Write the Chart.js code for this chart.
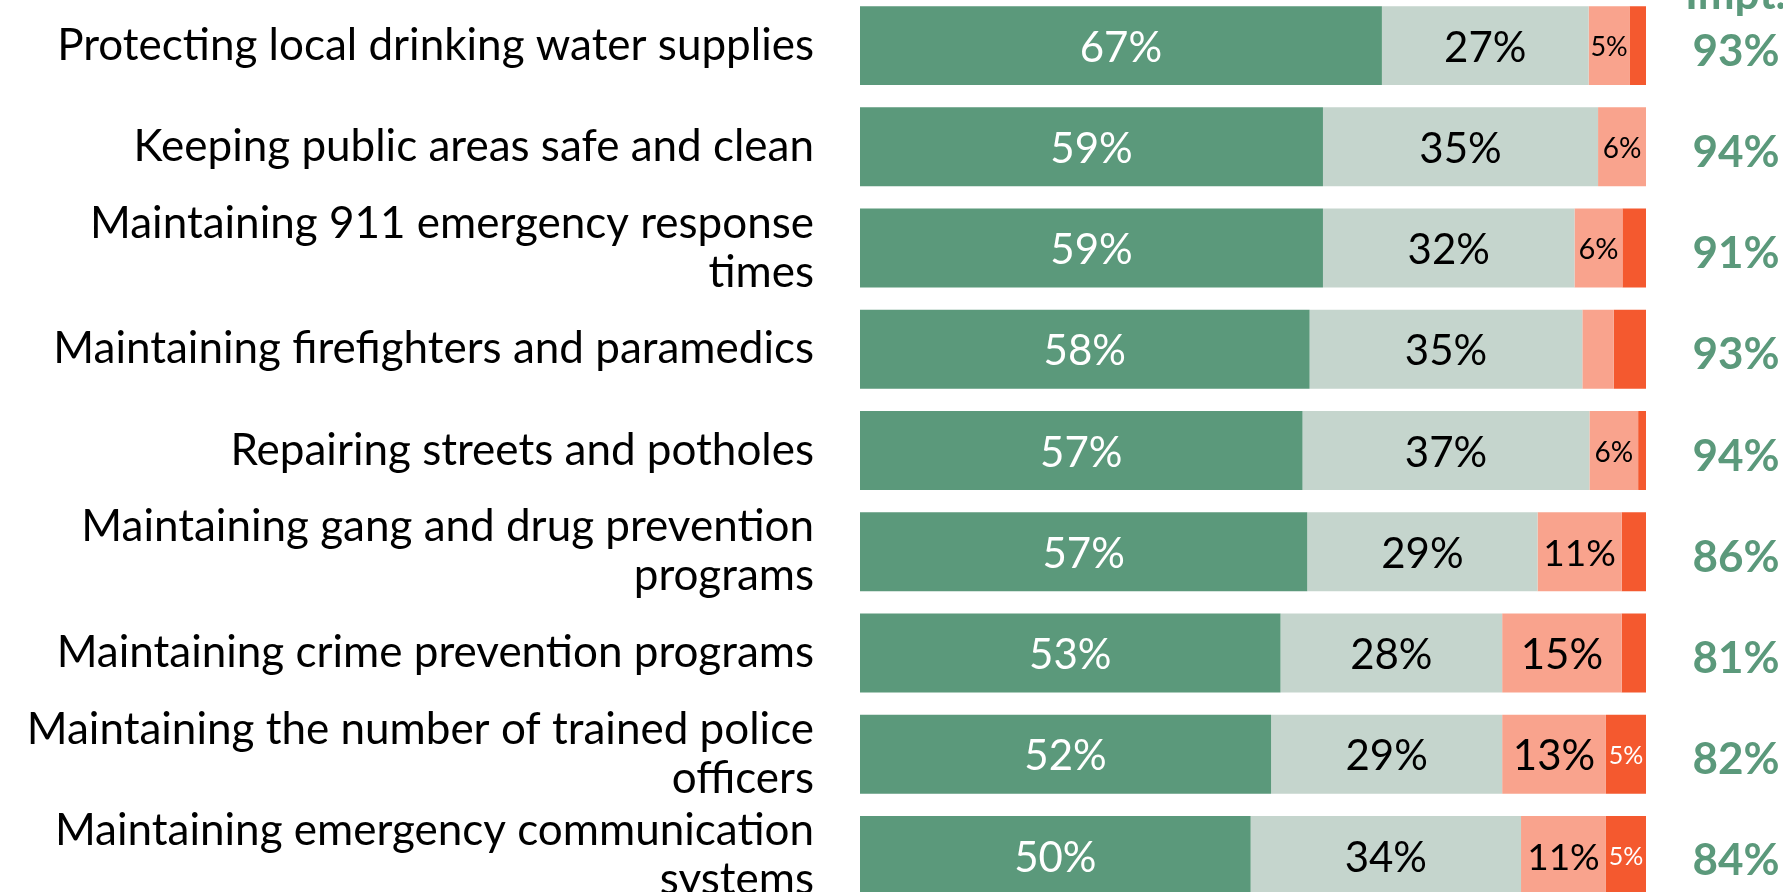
<!DOCTYPE html>
<html><head><meta charset="utf-8">
<script src="https://cdn.jsdelivr.net/npm/chart.js@4"></script>
<style>
html,body{margin:0;padding:0;background:#fff;overflow:hidden;width:1783px;height:892px;}
#wrap{position:absolute;left:0;top:-5px;width:1783px;height:911px;}
</style></head><body>
<div id="wrap"><canvas id="c"></canvas></div>
<script>
const categories = [
  'Protecting local drinking water supplies',
  'Keeping public areas safe and clean',
  ['Maintaining 911 emergency response', 'times'],
  'Maintaining firefighters and paramedics',
  'Repairing streets and potholes',
  ['Maintaining gang and drug prevention', 'programs'],
  'Maintaining crime prevention programs',
  ['Maintaining the number of trained police', 'officers'],
  ['Maintaining emergency communication', 'systems']
];
const veryImportant     = [66.4, 58.9, 58.9, 57.2, 56.3, 56.9, 53.5, 52.3, 49.7];
const somewhatImportant = [26.3, 35.0, 32.0, 34.7, 36.5, 29.3, 28.2, 29.4, 34.4];
const notTooImportant   = [5.2, 6.1, 6.1, 4.0, 6.2, 10.7, 15.2, 13.2, 10.8];
const notAtAllImportant = [2.1, 0, 3.0, 4.1, 1.0, 3.1, 3.1, 5.1, 5.1];
const veryLabels     = ['67%','59%','59%','58%','57%','57%','53%','52%','50%'];
const somewhatLabels = ['27%','35%','32%','35%','37%','29%','28%','29%','34%'];
const notTooLabels   = ['5%','6%','6%','','6%','11%','15%','13%','11%'];
const notAtAllLabels = ['','','','','','','','5%','5%'];
const totalImportant = ['93%','94%','91%','93%','94%','86%','81%','82%','84%'];
const headerText = 'Impt.';

// styles (kept apart from data)
const FONT = 'Lato, "Open Sans", sans-serif';
const GREEN = '#5B997B', GREY = '#C5D5CD', PINK = '#F9A38D', ORANGE = '#F4592F';
const labelSizes = [
  [42,42,42,42,42,42,42,42,42],
  [42,42,42,42,42,42,42,42,42],
  [27,28,29,28,28,37,42,42,37],
  [25,25,25,25,25,25,25,25,25]
];
const labelColors = ['#ffffff', '#000000', '#000000', '#ffffff'];

const labelPlugin = {
  id: 'segLabels',
  afterDatasetsDraw(chart) {
    const ctx = chart.ctx;
    ctx.save();
    ctx.textAlign = 'center';
    ctx.textBaseline = 'alphabetic';
    chart.data.datasets.forEach((ds, di) => {
      const meta = chart.getDatasetMeta(di);
      meta.data.forEach((bar, i) => {
        const txt = ds.segLabels[i];
        if (!txt) return;
        const fs = labelSizes[di][i];
        ctx.font = fs + 'px ' + FONT;
        ctx.fillStyle = labelColors[di];
        const x = (bar.x + bar.base) / 2;
        ctx.fillText(txt, x, bar.y + 0.36 * fs + 1);
      });
    });
    const ys = chart.scales.y;
    ctx.font = 'bold 44px ' + FONT;
    ctx.fillStyle = GREEN;
    totalImportant.forEach((t, i) => {
      ctx.fillText(t, 1736, ys.getPixelForValue(i) + 20);
    });
    ctx.textAlign = 'left';
    ctx.fillText(headerText, 1685, 14);
    ctx.restore();
  }
};

new Chart(document.getElementById('c'), {
  type: 'bar',
  data: {
    labels: categories,
    datasets: [
      { data: veryImportant, backgroundColor: GREEN, segLabels: veryLabels },
      { data: somewhatImportant, backgroundColor: GREY, segLabels: somewhatLabels },
      { data: notTooImportant, backgroundColor: PINK, segLabels: notTooLabels },
      { data: notAtAllImportant, backgroundColor: ORANGE, segLabels: notAtAllLabels }
    ]
  },
  options: {
    indexAxis: 'y',
    responsive: true,
    maintainAspectRatio: false,
    animation: false,
    layout: { padding: { left: 0, right: 137, top: 0, bottom: 0 } },
    datasets: { bar: { barPercentage: 0.78, categoryPercentage: 1.0, borderWidth: 0 } },
    plugins: { legend: { display: false }, tooltip: { enabled: false } },
    scales: {
      x: { stacked: true, min: 0, max: 100, display: false },
      y: {
        stacked: true,
        grid: { display: false, drawTicks: false },
        border: { display: false },
        ticks: { color: '#000', font: { family: FONT, size: 44, lineHeight: 1.11 }, padding: 46, autoSkip: false },
        afterFit(scale) { scale.width = 860; scale.paddingTop = 0; scale.paddingBottom = 0; }
      }
    }
  },
  plugins: [labelPlugin]
});
</script>
</body></html>
